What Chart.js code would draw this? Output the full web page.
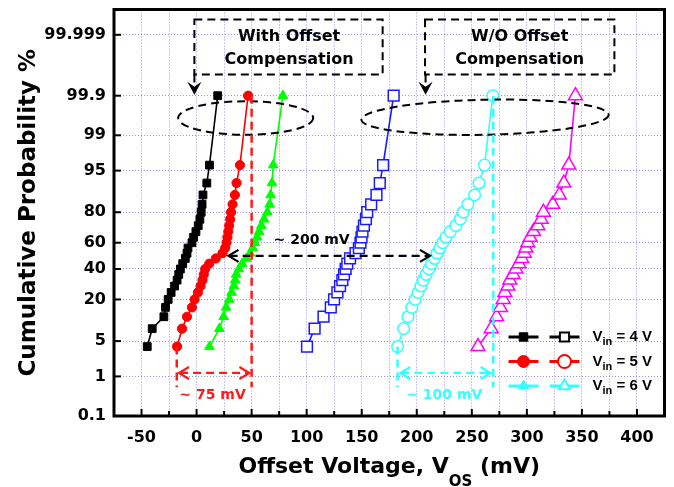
<!DOCTYPE html>
<html>
<head>
<meta charset="utf-8">
<script src="https://cdn.jsdelivr.net/npm/chart.js@4/dist/chart.umd.min.js"></script>
<style>
  html, body { margin: 0; background: #fff; }
  canvas { display: block; }
</style>
</head>
<body>
<canvas id="chart" width="674" height="487"></canvas>
<script>
// cumulative probability (%) of each sample, same for all six runs
const probPct = [4, 8, 12, 16, 20, 24, 28, 32, 36, 40, 44, 48, 52, 56, 60, 64, 68, 72, 76, 80, 84, 88, 92, 96, 99.9];

// offset voltage (mV), with offset compensation
const withComp4V = [-44.8, -40.3, -29.7, -28.2, -25.8, -23.1, -20, -17.7, -16.2, -14.7, -12.6, -10.2, -8.7, -7.8, -4.2, -2.7, -0.6, 1.5, 3, 4.2, 5, 5.8, 9.3, 11.7, 19.2];
const withComp5V = [-17.7, -13.2, -8.7, -4.2, -1.8, 1.2, 3.6, 5.4, 6.6, 7.8, 11.5, 17.5, 23.5, 26, 27.2, 28, 28.8, 29.6, 30.5, 31.3, 32.7, 34.8, 36.3, 39.4, 46.8];
const withComp6V = [11.7, 20.7, 24.6, 26.8, 29.7, 31.8, 33.9, 35.1, 36, 38.5, 41.4, 45.3, 48.6, 51.1, 52.9, 55, 56.8, 58.8, 61.3, 64.3, 66.4, 67.3, 68.5, 69.6, 78.4];

// offset voltage (mV), without offset compensation
const noComp4V = [100.3, 107.2, 115.3, 121.9, 124.9, 127.9, 130.3, 132.4, 133.9, 135.4, 136.9, 139.4, 144.4, 147.4, 148.9, 149.8, 150.7, 152, 153.8, 155, 158.6, 163.4, 166.4, 169.4, 179];
const noComp5V = [182.6, 188, 192, 195.5, 198.5, 201.2, 203.8, 206, 208.5, 211, 213.5, 216, 218.5, 221, 223.5, 226.5, 230.5, 235.5, 239.5, 242.3, 246.4, 252.5, 256.5, 261.5, 269.1];
const noComp6V = [255.6, 267.6, 272.5, 276, 278.5, 280, 282.8, 284.5, 287.5, 290.1, 292.8, 295.3, 297.6, 299.1, 300.8, 303, 306, 310, 313, 315, 323.5, 329.5, 333.6, 338.1, 344.1];

const vinLabels = ['4', '5', '6'];
// the original legend draws each Vin row in one colour (6 V row is cyan)
const legendColors = ['#000000', '#ff0000', '#33ffff'];
const yTickLabels = ['0.1', '1', '5', '20', '40', '60', '80', '95', '99', '99.9', '99.999'];
const xMin = -75, xMax = 425, xStep = 25;
const yMinPct = 0.1, yMaxPct = 99.9999;

// inverse normal cdf (Acklam) -> y axis is linear in probit units
function probit(p) {
  const a = [-3.969683028665376e+01, 2.209460984245205e+02, -2.759285104469687e+02, 1.383577518672690e+02, -3.066479806614716e+01, 2.506628277459239e+00];
  const b = [-5.447609879822406e+01, 1.615858368580409e+02, -1.556989798598866e+02, 6.680131188771972e+01, -1.328068155288572e+01];
  const c = [-7.784894002430293e-03, -3.223964580411365e-01, -2.400758277161838e+00, -2.549732539343734e+00, 4.374664141464968e+00, 2.938163982698783e+00];
  const d = [7.784695709041462e-03, 3.224671290700398e-01, 2.445134137142996e+00, 3.754408661907416e+00];
  const pl = 0.02425;
  let q, r;
  if (p < pl) {
    q = Math.sqrt(-2 * Math.log(p));
    return (((((c[0]*q+c[1])*q+c[2])*q+c[3])*q+c[4])*q+c[5]) / ((((d[0]*q+d[1])*q+d[2])*q+d[3])*q+1);
  }
  if (p <= 1 - pl) {
    q = p - 0.5; r = q * q;
    return (((((a[0]*r+a[1])*r+a[2])*r+a[3])*r+a[4])*r+a[5])*q / (((((b[0]*r+b[1])*r+b[2])*r+b[3])*r+b[4])*r+1);
  }
  q = Math.sqrt(-2 * Math.log(1 - p));
  return -(((((c[0]*q+c[1])*q+c[2])*q+c[3])*q+c[4])*q+c[5]) / ((((d[0]*q+d[1])*q+d[2])*q+d[3])*q+1);
}
const pz = pct => probit(pct / 100);

function series(vals, color, style, open, radius) {
  return {
    data: vals.map((v, i) => ({ x: v, y: pz(probPct[i]) })),
    showLine: true,
    borderColor: color,
    borderWidth: 1.6,
    pointStyle: style,
    pointRadius: radius,
    pointBorderColor: color,
    pointBackgroundColor: open ? '#fff' : color,
    pointBorderWidth: open ? 1.5 : 1
  };
}

const FONT = '"DejaVu Sans", sans-serif';

function dashed(ctx, x1, y1, x2, y2, color, w) {
  ctx.save();
  ctx.strokeStyle = color; ctx.lineWidth = w; ctx.setLineDash([8, 5]);
  ctx.beginPath(); ctx.moveTo(x1, y1); ctx.lineTo(x2, y2); ctx.stroke();
  ctx.restore();
}
function chevron(ctx, x, y, dir, color) {
  ctx.save();
  ctx.strokeStyle = color; ctx.lineWidth = 2.2; ctx.setLineDash([]);
  ctx.beginPath(); ctx.moveTo(x - dir * 10, y - 6); ctx.lineTo(x, y); ctx.lineTo(x - dir * 10, y + 6); ctx.stroke();
  ctx.restore();
}
function downArrow(ctx, x, yTop, yTip) {
  dashed(ctx, x, yTop, x, yTip - 8, '#000', 2);
  ctx.save();
  ctx.fillStyle = '#000';
  ctx.beginPath(); ctx.moveTo(x, yTip); ctx.lineTo(x - 7, yTip - 13); ctx.lineTo(x, yTip - 8); ctx.lineTo(x + 7, yTip - 13); ctx.closePath(); ctx.fill();
  ctx.restore();
}
function text(ctx, s, x, y, size, color, bold, align) {
  ctx.save();
  ctx.font = (bold ? 'bold ' : '') + size + 'px ' + FONT;
  ctx.fillStyle = color; ctx.textAlign = align || 'center'; ctx.textBaseline = 'middle';
  ctx.fillText(s, x, y);
  ctx.restore();
}

const decor = {
  id: 'decor',
  afterDatasetsDraw(chart) {
    const { ctx, scales: { x, y } } = chart;
    const X = v => x.getPixelForValue(v), Y = z => y.getPixelForValue(z);

    // dashed boxes + arrows (positions in mV / probit units)
    ctx.save();
    ctx.strokeStyle = '#000'; ctx.lineWidth = 2; ctx.setLineDash([8, 5]);
    ctx.strokeRect(X(-2), Y(4.56), X(169) - X(-2), Y(3.50) - Y(4.56));
    ctx.strokeRect(X(207.5), Y(4.56), X(379.5) - X(207.5), Y(3.50) - Y(4.56));
    // ellipses
    ctx.beginPath();
    ctx.ellipse(X(44.6), Y(2.66), X(61.3) - X(0), Y(0) - Y(0.323), 0, 0, Math.PI * 2);
    ctx.stroke();
    ctx.beginPath();
    ctx.ellipse(X(262), Y(2.675), X(112.3) - X(0), Y(0) - Y(0.338), -0.02, 0, Math.PI * 2);
    ctx.stroke();
    ctx.restore();
    downArrow(ctx, X(-2), Y(3.50), Y(3.11));
    downArrow(ctx, X(208), Y(3.50), Y(3.11));
    text(ctx, 'With Offset', X(84), Y(4.22), 16, '#000', true);
    text(ctx, 'Compensation', X(84), Y(3.79), 16, '#000', true);
    text(ctx, 'W/O Offset', X(293.5), Y(4.22), 16, '#000', true);
    text(ctx, 'Compensation', X(293.5), Y(3.79), 16, '#000', true);

    // ~200 mV
    dashed(ctx, X(30), Y(0), X(211), Y(0), '#000', 2.2);
    chevron(ctx, X(29), Y(0), -1, '#000');
    chevron(ctx, X(212), Y(0), 1, '#000');
    text(ctx, '~ 200 mV', X(104.5), Y(0.30), 14, '#000', true);

    // ~75 mV (red)
    const red = '#ff1a1a';
    dashed(ctx, X(-18), Y(pz(4)), X(-18), Y(-2.53), red, 2.5);
    dashed(ctx, X(50), Y(pz(99.9)), X(50), Y(-2.53), red, 2.5);
    dashed(ctx, X(-15), Y(-2.26), X(47), Y(-2.26), red, 2.2);
    chevron(ctx, X(-16), Y(-2.26), -1, red);
    chevron(ctx, X(48), Y(-2.26), 1, red);
    text(ctx, '~ 75 mV', X(14.5), Y(-2.69), 14, red, true);

    // ~100 mV (cyan)
    const cy = '#33ffff';
    dashed(ctx, X(182.5), Y(pz(4)), X(182.5), Y(-2.53), cy, 2.5);
    dashed(ctx, X(269.5), Y(pz(99.9)), X(269.5), Y(-2.53), cy, 2.5);
    dashed(ctx, X(186), Y(-2.26), X(266), Y(-2.26), cy, 2.2);
    chevron(ctx, X(185), Y(-2.26), -1, cy);
    chevron(ctx, X(267), Y(-2.26), 1, cy);
    text(ctx, '~ 100 mV', X(225), Y(-2.69), 14, cy, true);
  },
  afterDraw(chart) {
    const { ctx, chartArea: a, scales: { x, y } } = chart;
    ctx.save();
    // inward ticks
    ctx.strokeStyle = '#000'; ctx.lineWidth = 2;
    x.ticks.forEach(t => {
      const px = x.getPixelForValue(t.value);
      const len = t.value % 50 === 0 ? 7 : 5;
      ctx.beginPath(); ctx.moveTo(px, a.bottom); ctx.lineTo(px, a.bottom - len); ctx.stroke();
    });
    y.ticks.forEach(t => {
      const py = y.getPixelForValue(t.value);
      ctx.beginPath(); ctx.moveTo(a.left, py); ctx.lineTo(a.left + 7, py); ctx.stroke();
    });
    // frame
    ctx.lineWidth = 3;
    ctx.strokeRect(a.left, a.top, a.right - a.left, a.bottom - a.top);
    ctx.restore();

    // legend: filled (with comp.) and open (w/o comp.) marker for each Vin
    const ds = chart.data.datasets;
    const lx = a.right - 155;
    vinLabels.forEach((lab, i) => {
      const ly = a.bottom - 79 + i * 24.5;
      const col = legendColors[i];
      [ds[i], ds[i + 3]].forEach((d, k) => {
        const cx = lx + 14 + k * 41;
        const open = k === 1;
        ctx.save();
        ctx.strokeStyle = col; ctx.lineWidth = 3;
        ctx.beginPath(); ctx.moveTo(cx - 15, ly); ctx.lineTo(cx + 15, ly); ctx.stroke();
        ctx.fillStyle = open ? '#fff' : col; ctx.lineWidth = open ? 2 : 1;
        Chart.helpers.drawPoint(ctx, { pointStyle: d.pointStyle, radius: open ? 6.5 : 6, borderWidth: ctx.lineWidth }, cx, ly);
        ctx.restore();
      });
      ctx.save();
      ctx.fillStyle = '#000'; ctx.textBaseline = 'middle'; ctx.textAlign = 'left';
      const LF = '"Liberation Sans", Arial, sans-serif';
      let tx = lx + 83;
      ctx.font = 'bold 15px ' + LF; ctx.fillText('V', tx, ly); tx += ctx.measureText('V').width;
      ctx.font = 'bold 11px ' + LF; ctx.fillText('in', tx, ly + 5); tx += ctx.measureText('in').width;
      ctx.font = 'bold 15px ' + LF; ctx.fillText(' = ' + lab + ' V', tx, ly);
      ctx.restore();
    });

    // axis titles
    ctx.save();
    ctx.fillStyle = '#000';
    ctx.font = 'bold 23px ' + FONT; ctx.textAlign = 'center'; ctx.textBaseline = 'middle';
    ctx.translate(29, (a.top + a.bottom) / 2); ctx.rotate(-Math.PI / 2);
    ctx.fillText('Cumulative Probability %', 0, 0);
    ctx.restore();

    ctx.save();
    ctx.fillStyle = '#000'; ctx.textBaseline = 'alphabetic'; ctx.textAlign = 'left';
    const big = 'bold 22px ' + FONT, small = 'bold 15px ' + FONT;
    const p1 = 'Offset Voltage, V', p2 = 'OS', p3 = ' (mV)';
    ctx.font = big; const w1 = ctx.measureText(p1).width, w3 = ctx.measureText(p3).width;
    ctx.font = small; const w2 = ctx.measureText(p2).width;
    let tx = (a.left + a.right) / 2 - (w1 + w2 + w3) / 2;
    const base = a.bottom + 57;
    ctx.font = big; ctx.fillText(p1, tx, base); tx += w1;
    ctx.font = small; ctx.fillText(p2, tx, base + 13); tx += w2;
    ctx.font = big; ctx.fillText(p3, tx, base);
    ctx.restore();
  }
};

const gridStyle = { color: 'rgba(110,110,225,0.75)', lineWidth: 1, drawTicks: false };
// fixed plot box: drop the label overhang padding chart.js adds
const noPad = s => { s.paddingTop = s.paddingBottom = s.paddingLeft = s.paddingRight = 0; };

new Chart(document.getElementById('chart'), {
  type: 'scatter',
  data: {
    datasets: [
      series(withComp4V, '#000000', 'rect', false, 5.5),
      series(withComp5V, '#ff0000', 'circle', false, 4.6),
      series(withComp6V, '#00ff00', 'triangle', false, 5.6),
      series(noComp4V, '#1a1aff', 'rect', true, 7.6),
      series(noComp5V, '#33ffff', 'circle', true, 5.8),
      series(noComp6V, '#ff00ff', 'triangle', true, 8)
    ]
  },
  options: {
    responsive: false,
    animation: false,
    layout: { padding: { top: 9, right: 3, left: 0, bottom: 0 } },
    plugins: { legend: { display: false }, tooltip: { enabled: false } },
    scales: {
      x: {
        type: 'linear', min: xMin, max: xMax,
        grid: gridStyle,
        border: { display: false, dash: [1, 2] },
        afterFit: s => { s.height = 71; noPad(s); },
        ticks: {
          stepSize: xStep, autoSkip: false, maxRotation: 0, padding: 12,
          color: '#000', font: { family: FONT, size: 16, weight: 'bold' },
          callback: v => (v % 50 === 0 ? String(v) : '')
        }
      },
      y: {
        type: 'linear', min: pz(yMinPct), max: pz(yMaxPct),
        grid: gridStyle,
        border: { display: false, dash: [1, 2] },
        afterFit: s => { s.width = 114; noPad(s); },
        afterBuildTicks: s => { s.ticks = yTickLabels.map(l => ({ value: pz(parseFloat(l)) })); },
        ticks: {
          autoSkip: false, padding: 8,
          color: '#000', font: { family: FONT, size: 16, weight: 'bold' },
          callback: (v, i) => yTickLabels[i]
        }
      }
    }
  },
  plugins: [decor]
});
</script>
</body>
</html>
